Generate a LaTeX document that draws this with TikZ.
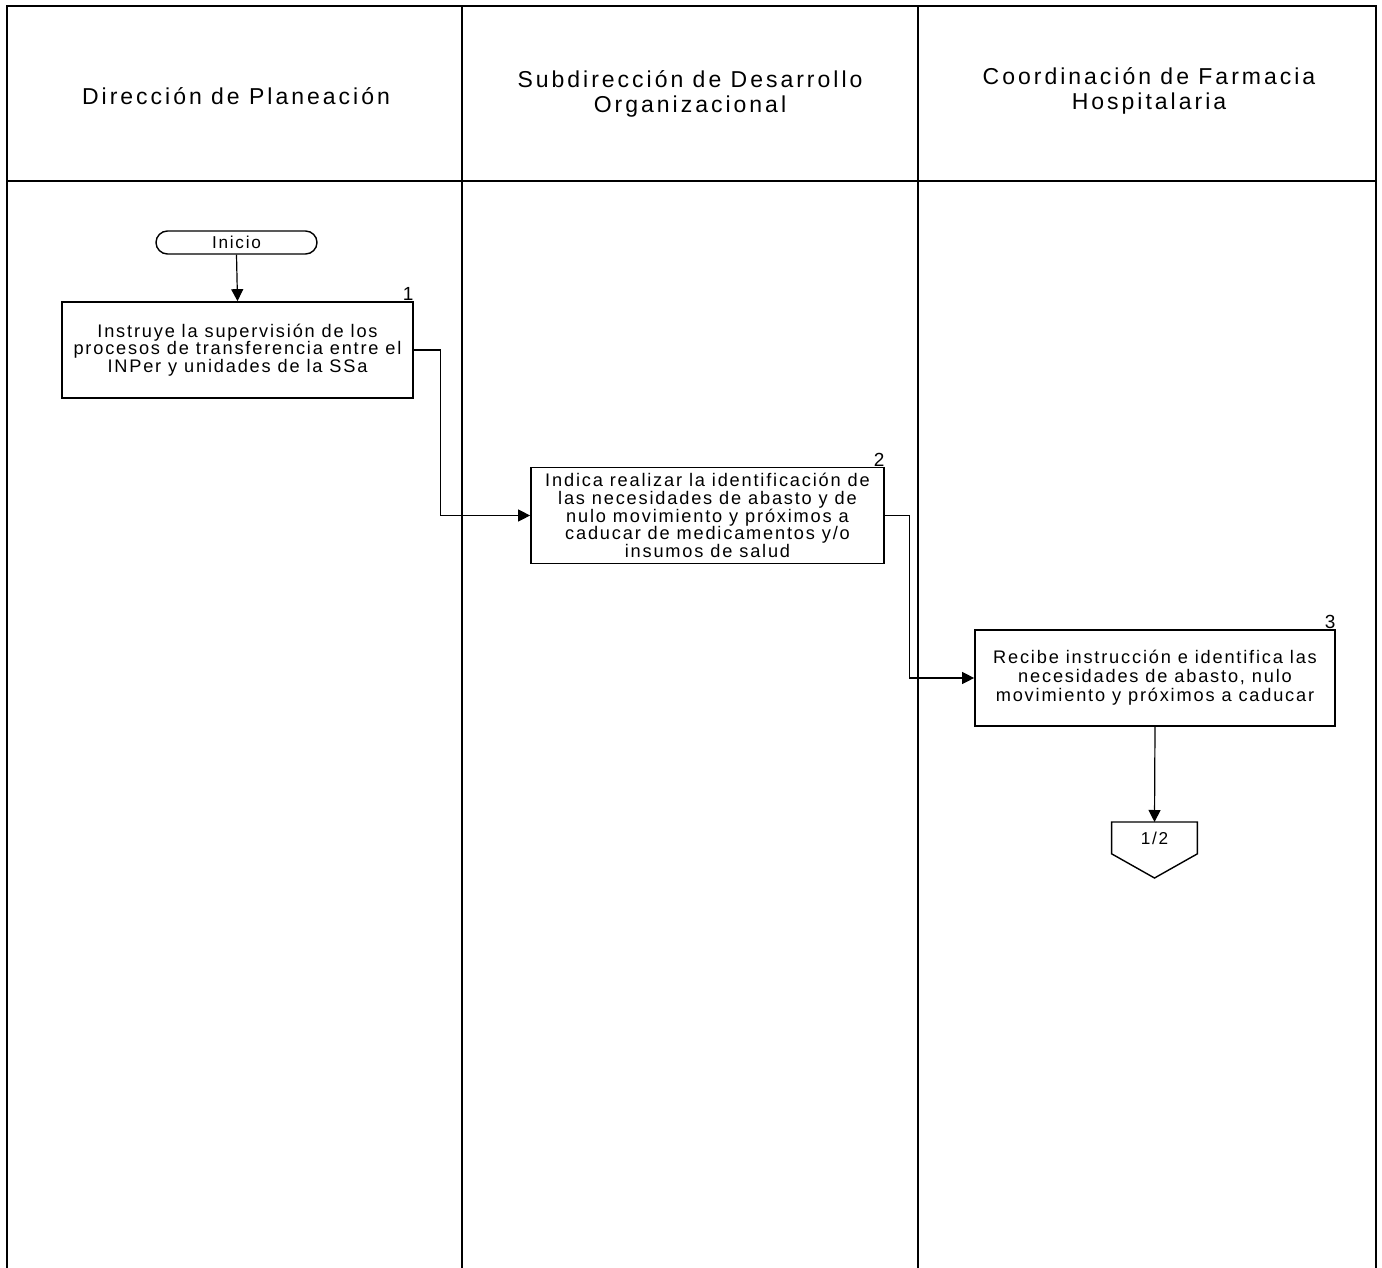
\documentclass[tikz,border=0pt]{standalone}
\usepackage{fontspec}
\setmainfont{Liberation Sans}[LetterSpace=10]
\newfontfamily\headfont{Liberation Sans}[LetterSpace=13]
\usetikzlibrary{arrows.meta,shapes.misc,calc}
\begin{document}
\begin{tikzpicture}[x=0.5pt,y=-0.5pt,
  frameline/.style={line width=0.7pt},
  laneline/.style={line width=1.1pt},
  header/.style={align=center, inner sep=0pt, font=\headfont\fontsize{11.5}{12.3}\selectfont},
  procbox/.style={draw, line width=0.85pt, align=center, inner sep=0pt, minimum height=48pt, font=\fontsize{9.1}{8.8}\selectfont},
  startbox/.style={draw, line width=0.7pt, rounded rectangle, inner sep=0pt, minimum width=80.5pt, minimum height=11.5pt, font=\fontsize{8.6}{8.8}\selectfont},
  num/.style={inner sep=0pt, font=\fontsize{9.5}{9.5}\selectfont},
  conn/.style={line width=0.6pt, -{Triangle[length=6pt,width=6pt]}}
]
\useasboundingbox (0,0) rectangle (1382,1268);
% frame and lanes
\draw[frameline] (7,1268) -- (7,6) -- (1376,6) -- (1376,1268);
\draw[frameline] (7,181) -- (1376,181);
\draw[laneline] (462,6) -- (462,1268);
\draw[laneline] (918,6) -- (918,1268);
% headers
\node[header] (h1) at (236,96) {Dirección de Planeación};
\node[header] (h2) at (690,94) {Subdirección de Desarrollo\\Organizacional};
\node[header] (h3) at (1149,91) {Coordinación de Farmacia\\Hospitalaria};
% nodes
\node[startbox] (ini) at (236.5,242.5) {Inicio};
\node[procbox, minimum width=175.5pt] (b1) at (237.5,350) {Instruye la supervisión de los\\procesos de transferencia entre el\\INPer y unidades de la SSa};
\node[num, anchor=south east] (n1) at (b1.north east) {1\hspace{5pt}};
\node[procbox, minimum width=176.5pt] (b2) at (707.5,515.5) {Indica realizar la identificación de\\las necesidades de abasto y de\\nulo movimiento y próximos a\\caducar de medicamentos y/o\\insumos de salud};
\node[num, anchor=south east] (n2) at (b2.north east) {2\hspace{5pt}};
\node[procbox, minimum width=180pt, font=\fontsize{9.1}{9.5}\selectfont] (b3) at (1155,678) {Recibe instrucción e identifica las\\necesidades de abasto, nulo\\movimiento y próximos a caducar};
\node[num, anchor=south east] (n3) at (b3.north east) {3\hspace{5pt}};
% off-page connector
\node[inner sep=0pt, minimum width=42.5pt, minimum height=15.5pt, anchor=north, font=\fontsize{8.6}{8.8}\selectfont] (off) at (1154.5,822) {1/2};
\draw[line width=0.7pt] (off.north west) -- (off.north east) -- (off.south east) -- ($(off.north)+(0,56)$) -- (off.south west) -- cycle;
% connectors
\draw[conn] (ini.south) -- (b1.north);
\draw[conn] (b1.east) -- ++(27,0) |- (b2.west);
\draw[conn] (b2.east) -- ++(25,0) |- (b3.west);
\draw[conn] (b3.south) -- (off.north);
\end{tikzpicture}
\end{document}
